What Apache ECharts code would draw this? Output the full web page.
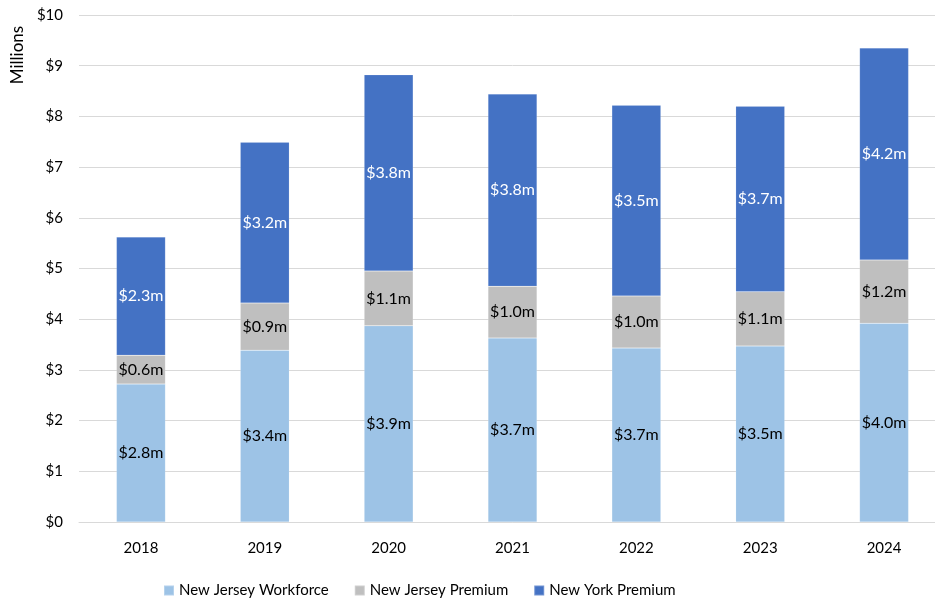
<!DOCTYPE html>
<html>
<head>
<meta charset="utf-8">
<script src="https://cdn.jsdelivr.net/npm/echarts@6/dist/echarts.min.js"></script>
<style>
  html, body { margin: 0; padding: 0; background: #fff; overflow: hidden; }
  /* the plot area runs a bit past the right edge of the window, like the original */
  #chart { width: 946px; height: 604px; }
</style>
</head>
<body>
<div id="chart"></div>
<script>
  // values in $ millions
  const years = ['2018', '2019', '2020', '2021', '2022', '2023', '2024'];
  const njWorkforce = [2.72, 3.39, 3.87, 3.63, 3.43, 3.47, 3.92];
  const njPremium = [0.57, 0.93, 1.08, 1.02, 1.03, 1.07, 1.25];
  const nyPremium = [2.33, 3.17, 3.87, 3.79, 3.76, 3.66, 4.18];
  // printed labels (as shown on the chart)
  const njWorkforceLabels = ['$2.8m', '$3.4m', '$3.9m', '$3.7m', '$3.7m', '$3.5m', '$4.0m'];
  const njPremiumLabels = ['$0.6m', '$0.9m', '$1.1m', '$1.0m', '$1.0m', '$1.1m', '$1.2m'];
  const nyPremiumLabels = ['$2.3m', '$3.2m', '$3.8m', '$3.8m', '$3.5m', '$3.7m', '$4.2m'];

  const font = 'Lato, "Open Sans", sans-serif';
  const chart = echarts.init(document.getElementById('chart'));

  function barSeries(name, data, labels, color, labelColor) {
    return {
      name: name,
      type: 'bar',
      stack: 'total',
      barWidth: 49,
      data: data,
      itemStyle: { color: color, borderColor: 'rgba(255,255,255,0.25)', borderWidth: 0.5 },
      label: {
        show: true,
        position: 'inside',
        color: labelColor,
        fontFamily: font,
        fontSize: 16,
        formatter: p => labels[p.dataIndex],
      },
      emphasis: { disabled: true },
    };
  }

  chart.setOption({
    animation: false,
    grid: { left: 79, right: 0, top: 15, bottom: 82 },
    legend: {
      left: 158,
      bottom: 1,
      itemWidth: 10,
      itemHeight: 10,
      itemGap: 25,
      icon: 'rect',
      textStyle: { fontFamily: font, fontSize: 15, color: '#000' },
      data: ['New Jersey Workforce', 'New Jersey Premium', 'New York Premium'],
    },
    graphic: [{
      type: 'text',
      x: 18,
      y: 55,
      rotation: Math.PI / 2,
      style: {
        text: 'Millions',
        fontFamily: font,
        fontSize: 17,
        fill: '#000',
        align: 'center',
        verticalAlign: 'middle',
      },
    }],
    xAxis: {
      type: 'category',
      data: years,
      axisLine: { lineStyle: { color: '#d9d9d9' } },
      axisTick: { show: false },
      axisLabel: { color: '#000', fontFamily: font, fontSize: 15, margin: 19 },
    },
    yAxis: {
      type: 'value',
      min: 0,
      max: 10,
      interval: 1,
      axisLine: { show: false },
      axisTick: { show: false },
      axisLabel: { color: '#000', fontFamily: font, fontSize: 15, margin: 16, formatter: v => '$' + v },
      splitLine: { lineStyle: { color: '#d9d9d9', width: 1 } },
    },
    series: [
      barSeries('New Jersey Workforce', njWorkforce, njWorkforceLabels, '#9DC3E6', '#000'),
      barSeries('New Jersey Premium', njPremium, njPremiumLabels, '#BFBFBF', '#000'),
      barSeries('New York Premium', nyPremium, nyPremiumLabels, '#4472C4', '#fff'),
    ],
  });
</script>
</body>
</html>
